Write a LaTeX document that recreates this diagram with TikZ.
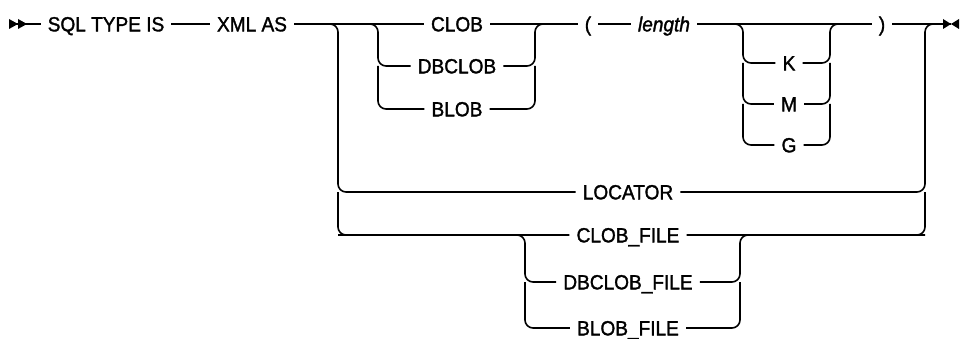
\documentclass[tikz,border=0pt]{standalone}
\usepackage{fontspec}
\setmainfont{Liberation Sans}[FakeBold=1.5, FakeStretch=0.93]
\usetikzlibrary{positioning}

\tikzset{
  kw/.style={inner xsep=7pt, inner ysep=0pt, text height=14.7pt, text depth=0pt,
    font=\fontsize{20.5}{24}\selectfont},
  var/.style={kw, font=\fontsize{20.5}{24}\selectfont\itshape},
  rail/.style={line width=1.6pt, rounded corners=8pt},
  endtip/.style={fill=black}
}

\begin{document}
\begin{tikzpicture}[x=1pt, y=1pt, on grid]
\useasboundingbox (0,0) rectangle (960,-339);

\node[kw] (sql) at (106,-24) {SQL TYPE IS};
\node[kw, right=146pt of sql] (xml) {XML AS};
\node[kw, right=205pt of xml] (clob) {CLOB};
\node[kw, below=42pt of clob] (dbclob) {DBCLOB};
\node[kw, below=85pt of clob] (blob) {BLOB};
\node[kw, right=131pt of clob] (lpar) {(};
\node[var, right=76pt of lpar] (len) {length};
\node[kw, below right=39pt and 125pt of len] (k) {K};
\node[kw, below=41pt of k] (m) {M};
\node[kw, below=41pt of m] (g) {G};
\node[kw, right=218pt of len] (rpar) {)};
\node[kw, below right=168pt and 171pt of clob] (loc) {LOCATOR};
\node[kw, below=43pt of loc] (clobf) {CLOB\_FILE};
\node[kw, below=47pt of clobf] (dbclobf) {DBCLOB\_FILE};
\node[kw, below=93pt of clobf] (blobf) {BLOB\_FILE};

\coordinate (in) at (9,-24);
\coordinate (out) at (951,-24);
\coordinate (splitA) at (338,-24);
\coordinate (splitB) at (378,-24);
\coordinate (joinB) at (535,-24);
\coordinate (splitC) at (743,-24);
\coordinate (joinC) at (830,-24);
\coordinate (joinA) at (925,-24);
\coordinate (splitD) at (525,-235);
\coordinate (joinD) at (740,-235);

% main line
\draw[rail] (in) -- (sql);
\draw[rail] (sql) -- (xml);
\draw[rail] (xml) -- (clob);
\draw[rail] (clob) -- (lpar);
\draw[rail] (lpar) -- (len);
\draw[rail] (len) -- (rpar);
\draw[rail] (rpar) -- (out);

% CLOB / DBCLOB / BLOB
\draw[rail] (xml.east) -| (splitB |- dbclob) -- (dbclob.west);
\draw[rail] (splitB |- dbclob) |- (blob.west);
\draw[rail] (dbclob.east) -| (joinB |- clob) -- (lpar.west);
\draw[rail] (blob.east) -| (joinB |- dbclob);

% K / M / G
\draw[rail] (len.east) -| (splitC |- k) -- (k.west);
\draw[rail] (splitC |- k) |- (m.west);
\draw[rail] (splitC |- m) |- (g.west);
\draw[rail] (k.east) -| (joinC |- len) -- (rpar.west);
\draw[rail] (m.east) -| (joinC |- k);
\draw[rail] (g.east) -| (joinC |- m);

% LOCATOR and files
\draw[rail] (xml.east) -| (splitA |- loc) -- (loc.west);
\draw[rail] (splitA |- loc) |- (clobf.west);
\draw[rail] (loc.east) -| (joinA) -- (out);
\draw[rail] (clobf.east) -| (joinA |- loc);
\draw[rail] (splitA |- clobf) -| (splitD |- dbclobf) -- (dbclobf.west);
\draw[rail] (splitD |- dbclobf) |- (blobf.west);
\draw[rail] (dbclobf.east) -| (joinD |- clobf) -- (joinA |- clobf);
\draw[rail] (blobf.east) -| (joinD |- dbclobf);

% end marks
\fill[endtip] (in) ++(0,5) -- ++(9,-5) -- ++(-9,-5) -- cycle;
\fill[endtip] (in) ++(9,5) -- ++(9,-5) -- ++(-9,-5) -- cycle;
\fill[endtip] (out) -- ++(-8,5) -- ++(0,-10) -- cycle;
\fill[endtip] (out) -- ++(8,5) -- ++(0,-10) -- cycle;
\end{tikzpicture}
\end{document}
